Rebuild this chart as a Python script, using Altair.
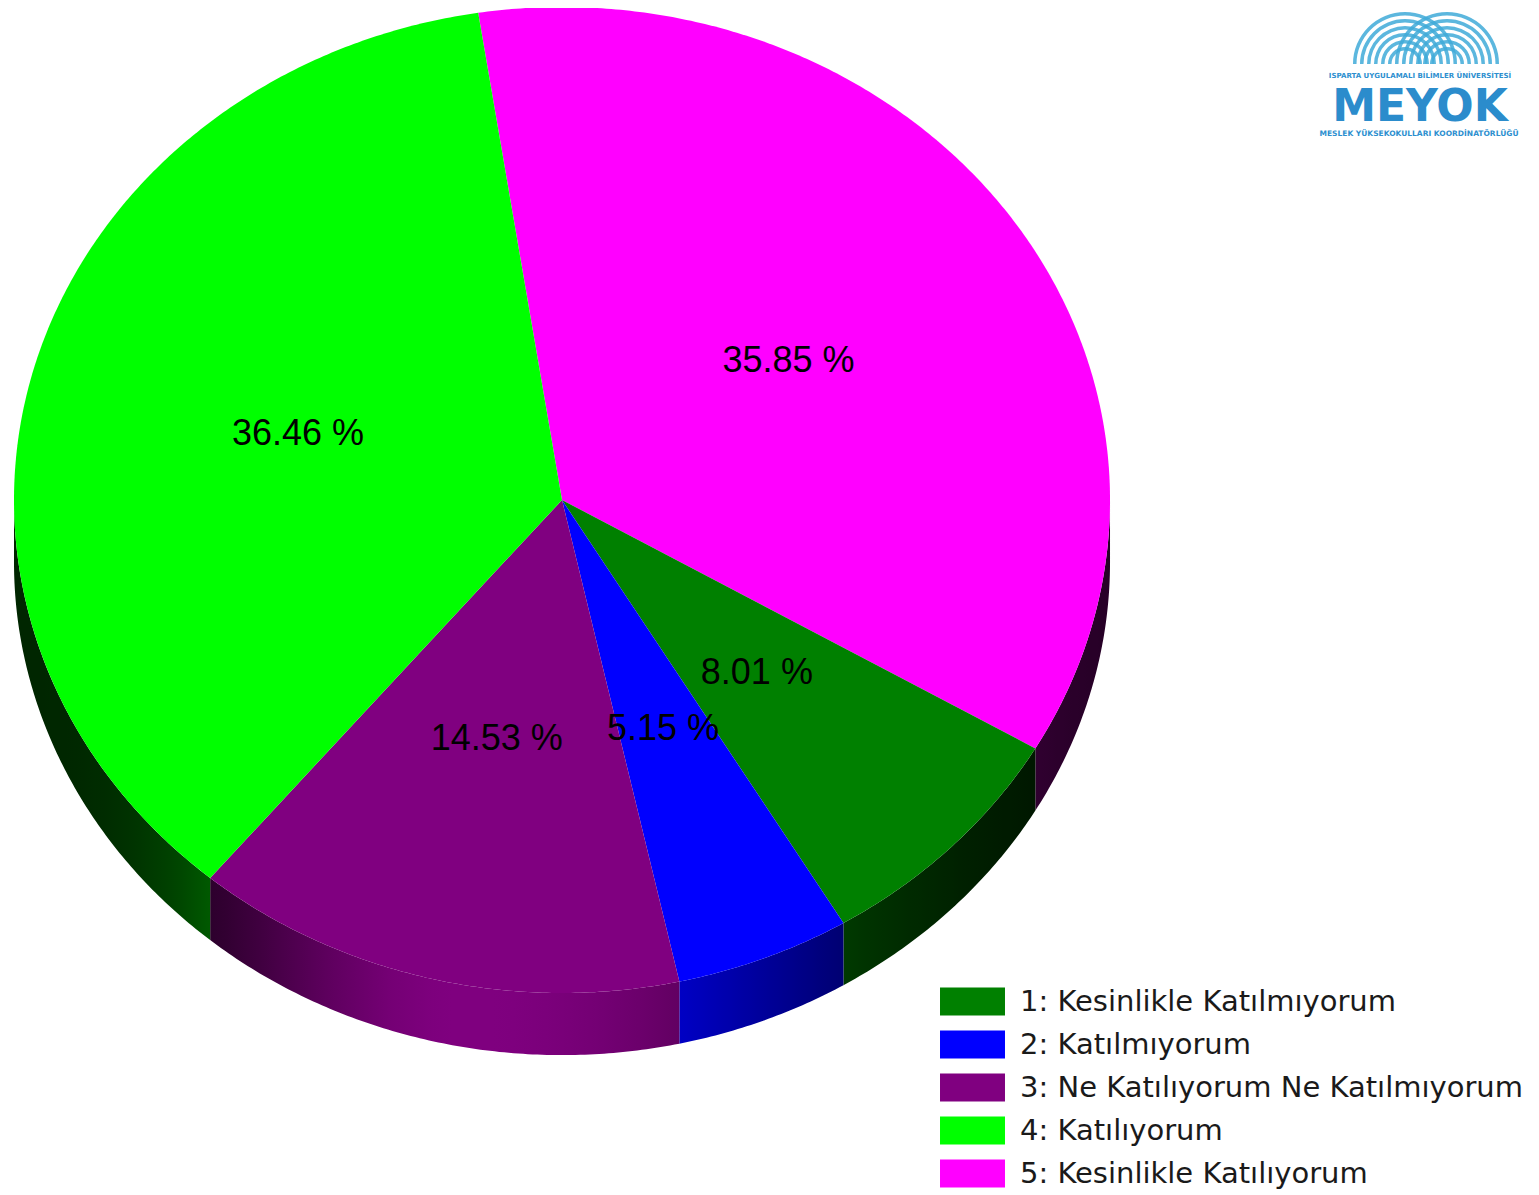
import math
import numpy as np
import pandas as pd
import altair as alt

# ---------------- data ----------------
categories = [
    "1: Kesinlikle Katılmıyorum",
    "2: Katılmıyorum",
    "3: Ne Katılıyorum Ne Katılmıyorum",
    "4: Katılıyorum",
    "5: Kesinlikle Katılıyorum",
]
percentages = [8.01, 5.15, 14.53, 36.46, 35.85]
slice_colors = ["#008000", "#0000FF", "#800080", "#00FF00", "#FF00FF"]
# clockwise order of the slices starting at the top of the pie
clockwise_order = [
    "5: Kesinlikle Katılıyorum",
    "1: Kesinlikle Katılmıyorum",
    "2: Katılmıyorum",
    "3: Ne Katılıyorum Ne Katılmıyorum",
    "4: Katılıyorum",
]

# ---------------- geometry settings ----------------
START_DEG = -8.8      # angle of first slice edge (0 = top, clockwise)
DEPTH = 0.126         # thickness of the 3D side, in pie-radius units
LABEL_R = 0.5         # label distance from centre, in pie-radius units


def shade(t):
    """brightness of the 3D side at angle t (deg)"""
    sigma = 40.0 if t < 190 else 25.0
    return 0.15 + 0.85 * math.exp(-((t - 190.0) / sigma) ** 2)


def darker(hex_color, f):
    r, g, b = (int(hex_color[i:i + 2], 16) for i in (1, 3, 5))
    return "#{:02x}{:02x}{:02x}".format(int(r * f), int(g * f), int(b * f))


pct = dict(zip(categories, percentages))
col = dict(zip(categories, slice_colors))
total = sum(percentages)

top_rows, side_rows, label_rows = [], [], []
side_specs = []   # (pid, gradient stops)
t0 = START_DEG
for cat in clockwise_order:
    span = 360.0 * pct[cat] / total
    t1 = t0 + span
    pid = "top-" + cat
    top_rows.append(dict(pid=pid, cat=cat, k=0, x=0.0, y=0.0))
    n = max(2, int(math.ceil(span / 0.5)))
    for i in range(n + 1):
        t = math.radians(t0 + span * i / n)
        top_rows.append(dict(pid=pid, cat=cat, k=i + 1, x=math.sin(t), y=math.cos(t)))
    # visible side (front half of the pie): one polygon per slice
    a, b = max(t0, 90.0), min(t1, 270.0)
    if b > a:
        sp = "side-" + cat
        m = max(2, int(math.ceil((b - a) / 0.5)))
        angs = [a + (b - a) * j / m for j in range(m + 1)]
        k = 0
        for ang in angs:
            r = math.radians(ang)
            side_rows.append(dict(pid=sp, k=k, x=math.sin(r), y=math.cos(r)))
            k += 1
        for ang in reversed(angs):
            r = math.radians(ang)
            side_rows.append(dict(pid=sp, k=k, x=math.sin(r), y=math.cos(r) - DEPTH))
            k += 1
        xs = [math.sin(math.radians(v)) for v in angs]
        xmin, xmax = min(xs), max(xs)
        stops = []
        for j in range(0, 25):
            ang = a + (b - a) * j / 24
            off = (math.sin(math.radians(ang)) - xmin) / (xmax - xmin)
            stops.append((min(1.0, max(0.0, off)), darker(col[cat], shade(ang))))
        stops.sort(key=lambda s: s[0])
        side_specs.append((sp, stops))
    tm = math.radians((t0 + t1) / 2)
    label_rows.append(dict(x=LABEL_R * math.sin(tm), y=LABEL_R * math.cos(tm),
                           txt="%.2f %%" % pct[cat]))
    t0 = t1

top_df = pd.DataFrame(top_rows)
side_df = pd.DataFrame(side_rows)
label_df = pd.DataFrame(label_rows)

W, H = 1523, 1187
x_scale = alt.Scale(domain=[-1.01095, 1.7682], nice=False, zero=False)
y_scale = alt.Scale(domain=[-1.40974, 0.99797], nice=False, zero=False)
X = alt.X("x:Q", scale=x_scale, axis=None)
Y = alt.Y("y:Q", scale=y_scale, axis=None)

side_layers = []
for sp, stops in side_specs:
    grad = alt.Gradient(
        gradient="linear", x1=0, y1=0, x2=1, y2=0,
        stops=[alt.GradientStop(offset=o, color=c) for o, c in stops],
    )
    side_layers.append(
        alt.Chart(side_df).transform_filter(alt.datum.pid == sp)
        .mark_line(filled=True, fill=grad, strokeWidth=0)
        .encode(x=X, y=Y, order=alt.Order("k:Q"))
    )

color_scale = alt.Scale(domain=categories, range=slice_colors)
top = alt.Chart(top_df).mark_line(filled=True, strokeWidth=0).encode(
    x=X, y=Y,
    order=alt.Order("k:Q"),
    detail="pid:N",
    color=alt.Color(
        "cat:N", scale=color_scale,
        legend=alt.Legend(
            title=None, orient="none", legendX=950, legendY=979,
            symbolType="M-2.321,-1H2.321V1H-2.321Z", symbolSize=784,
            symbolStrokeWidth=0, symbolOpacity=1,
            labelFont="DejaVu Sans", labelFontSize=29, labelColor="#1a1a1a",
            labelOffset=33, rowPadding=13, labelLimit=700, padding=0,
        ),
    ),
)

labels = alt.Chart(label_df).mark_text(
    font="Liberation Sans", fontSize=36, color="#000000",
    align="center", baseline="middle",
).encode(x=X, y=Y, text="txt:N")

# ---------------- logo (top right) ----------------
dummy = pd.DataFrame({"d": [0]})
logo_layers = []
for cx in (1405, 1447):
    for r in (52, 45, 38, 31, 24, 17):
        logo_layers.append(
            alt.Chart(dummy).mark_arc(
                radius=r, radius2=r - 3.5, theta=4.712389, theta2=7.853982,
                color="#3faad8", opacity=0.85,
            ).encode(x=alt.value(cx - 8), y=alt.value(64 - 8))
        )
logo_layers.append(
    alt.Chart(dummy).mark_text(
        text="ISPARTA UYGULAMALI BİLİMLER ÜNİVERSİTESİ", font="DejaVu Sans",
        fontWeight="bold", fontSize=7, color="#2d8fcf", align="center", baseline="middle",
    ).encode(x=alt.value(1420 - 8), y=alt.value(76 - 8))
)
logo_layers.append(
    alt.Chart(dummy).mark_text(
        text="MEYOK", font="DejaVu Sans", fontWeight="bold", fontSize=44,
        color="#2b8ccc", align="center", baseline="middle",
    ).encode(x=alt.value(1420 - 8), y=alt.value(108 - 8))
)
logo_layers.append(
    alt.Chart(dummy).mark_text(
        text="MESLEK YÜKSEKOKULLARI KOORDİNATÖRLÜĞÜ", font="DejaVu Sans",
        fontWeight="bold", fontSize=7.5, color="#2d8fcf", align="center", baseline="middle",
    ).encode(x=alt.value(1419 - 8), y=alt.value(134 - 8))
)

chart = alt.layer(*side_layers, top, labels, *logo_layers).properties(
    width=W, height=H, padding=0,
    autosize=alt.AutoSizeParams(type="none"),
    background="white",
).configure_view(stroke=None)

chart.save("out.html", embed_options={"renderer": "svg", "actions": False})
